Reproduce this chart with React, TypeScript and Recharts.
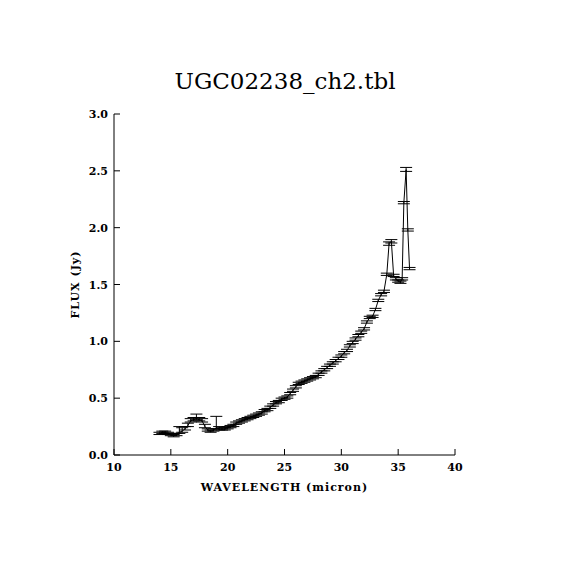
import { ComposedChart, Line, XAxis, YAxis, ErrorBar, Label } from "recharts";

const wavelength = [
  14.0, 14.25, 14.5, 14.75, 15.0, 15.25, 15.5, 15.75, 16.0, 16.25, 16.5, 16.75,
  17.0, 17.25, 17.5, 17.75, 18.0, 18.25, 18.5, 18.75, 19.0, 19.25, 19.5, 19.75,
  20.0, 20.25, 20.5, 20.75, 21.0, 21.25, 21.5, 21.75, 22.0, 22.25, 22.5, 22.75,
  23.0, 23.25, 23.5, 23.75, 24.0, 24.25, 24.5, 24.75, 25.0, 25.25, 25.5, 25.75,
  26.0, 26.25, 26.5, 26.75, 27.0, 27.25, 27.5, 27.75, 28.0, 28.25, 28.5, 28.75,
  29.0, 29.25, 29.5, 29.75, 30.0, 30.25, 30.5, 30.75, 31.0, 31.25, 31.5, 31.75,
  32.0, 32.25, 32.5, 32.75, 33.0, 33.25, 33.5, 33.75, 34.0, 34.2, 34.4, 34.6,
  34.8, 35.0, 35.2, 35.35, 35.5, 35.7, 35.85, 36.0,
];

const flux = [
  0.19, 0.2, 0.2, 0.19, 0.18, 0.17, 0.18, 0.2, 0.21, 0.23, 0.26, 0.3,
  0.31, 0.32, 0.31, 0.3, 0.25, 0.22, 0.21, 0.22, 0.24, 0.23, 0.23, 0.23,
  0.24, 0.25, 0.26, 0.28, 0.29, 0.3, 0.31, 0.32, 0.33, 0.34, 0.35, 0.36,
  0.37, 0.39, 0.4, 0.42, 0.44, 0.46, 0.47, 0.49, 0.5, 0.51, 0.54, 0.57,
  0.6, 0.63, 0.64, 0.65, 0.66, 0.67, 0.68, 0.69, 0.71, 0.73, 0.75, 0.77,
  0.79, 0.81, 0.83, 0.85, 0.87, 0.9, 0.92, 0.96, 0.99, 1.02, 1.05, 1.08,
  1.11, 1.17, 1.21, 1.22, 1.28, 1.36, 1.41, 1.44, 1.59, 1.86, 1.88, 1.58,
  1.55, 1.53, 1.52, 1.55, 2.22, 2.51, 1.98, 1.64,
];

// lower / upper error half-lengths (Jy)
const errDown = [
  0.01, 0.01, 0.01, 0.01, 0.01, 0.01, 0.01, 0.01, 0.01, 0.01, 0.01, 0.01,
  0.01, 0.01, 0.01, 0.01, 0.01, 0.01, 0.01, 0.01, 0.01, 0.01, 0.01, 0.01,
  0.01, 0.01, 0.01, 0.01, 0.01, 0.01, 0.01, 0.01, 0.01, 0.01, 0.01, 0.01,
  0.01, 0.01, 0.01, 0.01, 0.01, 0.01, 0.01, 0.01, 0.01, 0.01, 0.01, 0.01,
  0.01, 0.01, 0.01, 0.01, 0.01, 0.01, 0.01, 0.01, 0.01, 0.01, 0.01, 0.01,
  0.01, 0.01, 0.01, 0.01, 0.01, 0.01, 0.01, 0.01, 0.01, 0.01, 0.01, 0.01,
  0.01, 0.01, 0.01, 0.01, 0.01, 0.01, 0.01, 0.01, 0.01, 0.015, 0.015, 0.01,
  0.01, 0.01, 0.01, 0.01, 0.01, 0.015, 0.01, 0.01,
];

const errUp = [
  0.01, 0.01, 0.01, 0.01, 0.01, 0.01, 0.01, 0.05, 0.03, 0.02, 0.02, 0.02,
  0.02, 0.04, 0.02, 0.02, 0.02, 0.01, 0.01, 0.01, 0.1, 0.02, 0.01, 0.01,
  0.01, 0.01, 0.01, 0.01, 0.01, 0.01, 0.01, 0.01, 0.01, 0.01, 0.01, 0.01,
  0.01, 0.01, 0.01, 0.01, 0.01, 0.01, 0.01, 0.01, 0.01, 0.01, 0.01, 0.01,
  0.01, 0.01, 0.01, 0.01, 0.01, 0.01, 0.01, 0.01, 0.01, 0.01, 0.01, 0.01,
  0.01, 0.01, 0.01, 0.01, 0.01, 0.01, 0.01, 0.01, 0.01, 0.01, 0.01, 0.01,
  0.01, 0.01, 0.01, 0.01, 0.01, 0.01, 0.01, 0.01, 0.01, 0.015, 0.015, 0.01,
  0.01, 0.01, 0.01, 0.01, 0.01, 0.02, 0.01, 0.01,
];

const xTicks = [10, 15, 20, 25, 30, 35, 40];
const yTicks = [0, 0.5, 1, 1.5, 2, 2.5, 3];

const data = wavelength.map((w, i) => ({ w, flux: flux[i], err: [errDown[i], errUp[i]] }));

const labelFont = "'DejaVu Serif', serif";
const TICK = 6;

const BottomTick = ({ x, y, payload }: any) => (
  <g>
    <line x1={x} y1={y} x2={x} y2={y - TICK} stroke="#000" />
    <text x={x} y={y + 16} textAnchor="middle" fontFamily={labelFont} fontWeight="bold" fontSize={11} fill="#000">
      {payload.value}
    </text>
  </g>
);

const TopTick = ({ x, y }: any) => <line x1={x} y1={y} x2={x} y2={y + TICK} stroke="#000" />;

const LeftTick = ({ x, y, payload }: any) => (
  <g>
    <line x1={x} y1={y} x2={x + TICK} y2={y} stroke="#000" />
    <text x={x - 6} y={y + 4} textAnchor="end" fontFamily={labelFont} fontWeight="bold" fontSize={11} fill="#000">
      {Number(payload.value).toFixed(1)}
    </text>
  </g>
);

const RightTick = ({ x, y }: any) => <line x1={x} y1={y} x2={x - TICK} y2={y} stroke="#000" />;

export default function App() {
  return (
    <div style={{ position: "relative", width: 554, height: 554, background: "#fff" }}>
      <div
        style={{
          position: "absolute",
          top: 60,
          left: 0,
          width: 554,
          textAlign: "center",
          fontFamily: labelFont,
          fontSize: 23,
          color: "#000",
        }}
      >
        UGC02238_ch2.tbl
      </div>
      <ComposedChart width={554} height={554} data={data} margin={{ top: 106, right: 107, bottom: 0, left: 0 }}>
        <XAxis
          xAxisId="bottom"
          dataKey="w"
          type="number"
          domain={[10, 40]}
          ticks={xTicks}
          height={107}
          tickSize={0}
          tickMargin={0}
          tickLine={false}
          axisLine={{ stroke: "#000" }}
          tick={<BottomTick />}
          allowDataOverflow
        >
          <Label
            content={({ viewBox }: any) => (
              <text
                x={viewBox.x + viewBox.width / 2}
                y={viewBox.y + 36}
                textAnchor="middle"
                fontFamily={labelFont}
                fontWeight="bold"
                fontSize={11}
                letterSpacing={1}
                fill="#000"
              >
                WAVELENGTH (micron)
              </text>
            )}
          />
        </XAxis>
        <XAxis
          xAxisId="top"
          orientation="top"
          dataKey="w"
          type="number"
          domain={[10, 40]}
          ticks={xTicks}
          height={0}
          tickSize={0}
          tickMargin={0}
          tickLine={false}
          axisLine={{ stroke: "#000" }}
          tick={<TopTick />}
          allowDataOverflow
        />
        <YAxis
          yAxisId="left"
          type="number"
          domain={[0, 3]}
          ticks={yTicks}
          width={106}
          tickSize={0}
          tickMargin={0}
          tickLine={false}
          axisLine={{ stroke: "#000" }}
          tick={<LeftTick />}
          allowDataOverflow
        >
          <Label
            content={({ viewBox }: any) => {
              const cx = viewBox.x + 67;
              const cy = viewBox.y + viewBox.height / 2;
              return (
                <text
                  x={cx}
                  y={cy}
                  transform={`rotate(-90 ${cx} ${cy})`}
                  textAnchor="middle"
                  dominantBaseline="central"
                  fontFamily={labelFont}
                  fontWeight="bold"
                  fontSize={11}
                  letterSpacing={1}
                  fill="#000"
                >
                  FLUX (Jy)
                </text>
              );
            }}
          />
        </YAxis>
        <YAxis
          yAxisId="right"
          orientation="right"
          type="number"
          domain={[0, 3]}
          ticks={yTicks}
          width={0}
          tickSize={0}
          tickMargin={0}
          tickLine={false}
          axisLine={{ stroke: "#000" }}
          tick={<RightTick />}
          allowDataOverflow
        />
        <Line
          xAxisId="bottom"
          yAxisId="left"
          dataKey="flux"
          type="linear"
          stroke="#000"
          strokeWidth={1}
          dot={false}
          isAnimationActive={false}
        >
          <ErrorBar dataKey="err" direction="y" width={6} stroke="#000" strokeWidth={1} isAnimationActive={false} />
        </Line>
      </ComposedChart>
    </div>
  );
}
